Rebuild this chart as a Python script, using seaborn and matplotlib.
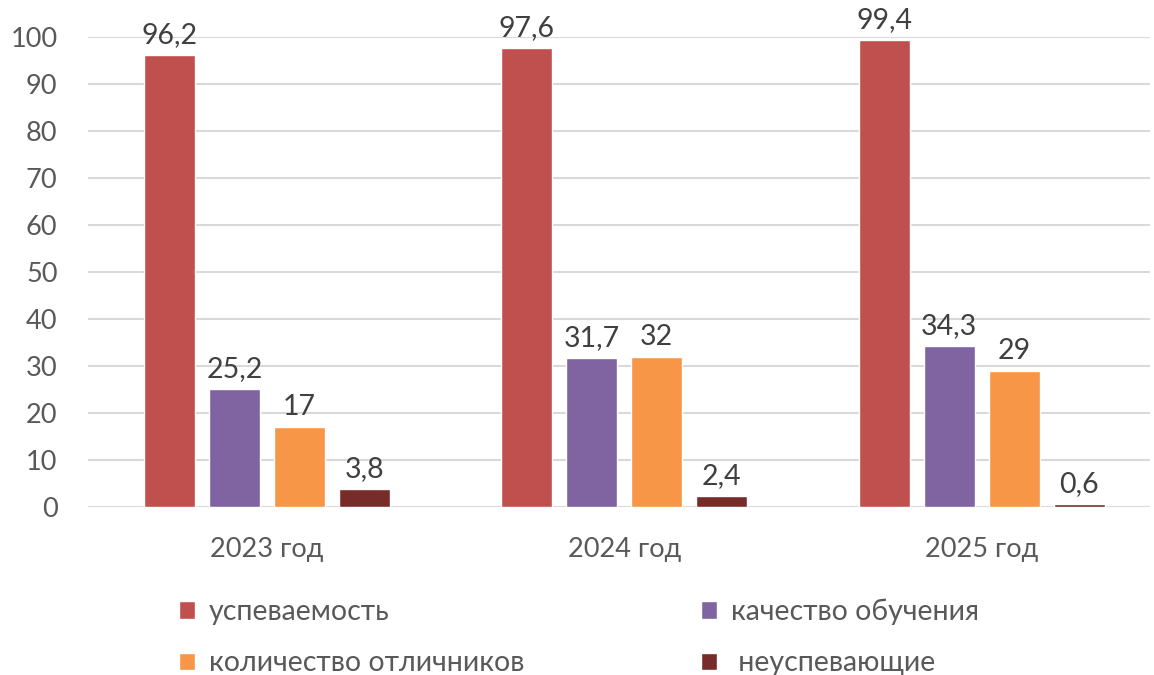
import seaborn as sns
import matplotlib.pyplot as plt
import pandas as pd

# данные с диаграммы
years = ["2023 год", "2024 год", "2025 год"]
series = ["успеваемость", "качество обучения", "количество отличников", " неуспевающие"]
uspev = [96.2, 97.6, 99.4]
kachestvo = [25.2, 31.7, 34.3]
otlichniki = [17, 32, 29]
neuspev = [3.8, 2.4, 0.6]
colors = ["#C0504D", "#8064A2", "#F79646", "#772C2A"]

rows = []
for s, vals in zip(series, [uspev, kachestvo, otlichniki, neuspev]):
    for y, v in zip(years, vals):
        rows.append({"year": y, "series": s, "value": v})
df = pd.DataFrame(rows)

sns.set_style("white")
plt.rcParams["font.family"] = ["Lato", "DejaVu Sans"]

fig = plt.figure(figsize=(11.54, 6.75), dpi=100)
ax = fig.add_axes([0.0763, 0.249, 0.92, 0.696])

sns.barplot(data=df, x="year", y="value", hue="series", palette=colors,
            width=0.726, gap=0.215, ax=ax, saturation=1, legend=True)

def fmt(v):
    return f"{v:g}".replace(".", ",")

for cont in ax.containers:
    ax.bar_label(cont, labels=[fmt(b.get_height()) for b in cont],
                 padding=5, fontsize=20.5, color="#404040")

ax.set_ylim(0, 100)
ax.set_xlim(-0.5, 2.47)
ax.set_yticks(range(0, 101, 10))
ax.yaxis.grid(True, color="#D9D9D9", linewidth=1.5)
ax.set_axisbelow(True)
ax.tick_params(axis="both", length=0, labelsize=19.5, labelcolor="#595959")
ax.tick_params(axis="y", pad=22)
ax.tick_params(axis="x", pad=22)
ax.set_xlabel("")
ax.set_ylabel("")
sns.despine(ax=ax, left=True, bottom=True)

# порядок легенды по строкам, как в оригинале
handles, labels = ax.get_legend_handles_labels()
ax.get_legend().remove()
order = [0, 2, 1, 3]
fig.legend([handles[i] for i in order], [labels[i] for i in order], ncol=2,
           loc="upper left", bbox_to_anchor=(0.133, 0.151),
           frameon=False, fontsize=20.5, labelcolor="#595959", handlelength=0.55,
           handleheight=0.55, handletextpad=0.5, columnspacing=6.2, labelspacing=0.88)

fig.savefig("out.png", dpi=100)
